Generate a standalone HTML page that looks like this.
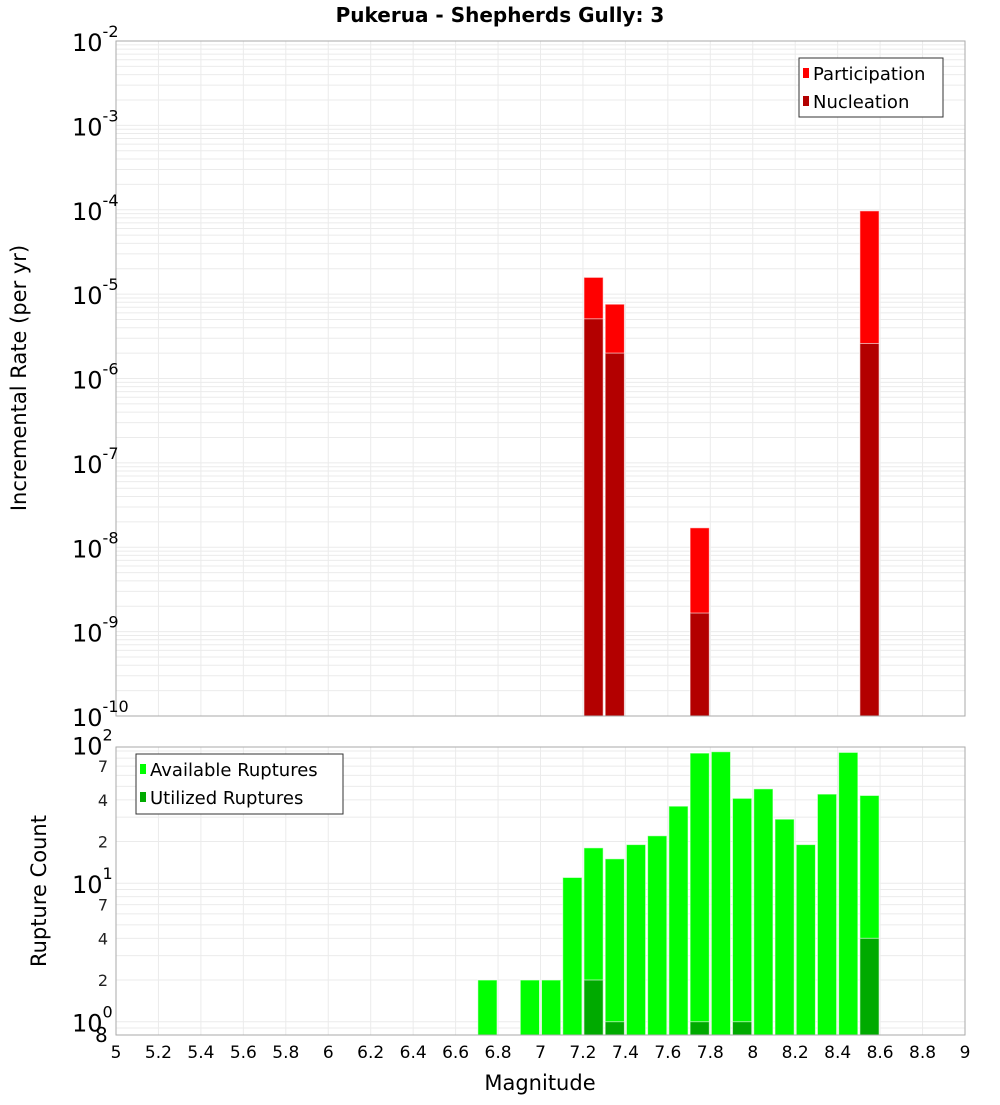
<!DOCTYPE html>
<html><head><meta charset="utf-8"><style>
body{margin:0;background:#fff}
svg text{font-family:"DejaVu Sans","Liberation Sans",sans-serif}
</style></head><body>
<svg id="chart" width="1000" height="1100" xmlns="http://www.w3.org/2000/svg">
<text x="500" y="22" text-anchor="middle" font-size="20" font-weight="bold">Pukerua - Shepherds Gully: 3</text>
<g id="topPanel"></g><g id="botPanel"></g>
<text transform="translate(26,378) rotate(-90)" text-anchor="middle" font-size="21">Incremental Rate (per yr)</text>
<text transform="translate(46,891) rotate(-90)" text-anchor="middle" font-size="21">Rupture Count</text>
<text x="540" y="1090" text-anchor="middle" font-size="21">Magnitude</text>
</svg>
<script>
const rateMags = [7.25, 7.35, 7.75, 8.55];
const participation = [1.58e-5, 7.6e-6, 1.7e-8, 9.7e-5];
const nucleation = [5.1e-6, 2.0e-6, 1.66e-9, 2.6e-6];
const countMags = [6.75,6.95,7.05,7.15,7.25,7.35,7.45,7.55,7.65,7.75,7.85,7.95,8.05,8.15,8.25,8.35,8.45,8.55];
const available = [2,2,2,11,18,15,19,22,36,87,89,41,48,29,19,44,88,43];
const utilizedMags = [7.25,7.35,7.75,7.95,8.55];
const utilized = [2,1,1,1,4];
const xTicks = [5,5.2,5.4,5.6,5.8,6,6.2,6.4,6.6,6.8,7,7.2,7.4,7.6,7.8,8,8.2,8.4,8.6,8.8,9];
const topExps = [-2,-3,-4,-5,-6,-7,-8,-9,-10];

const NS="http://www.w3.org/2000/svg";
const X0=116,X1=965;
const xs=m=>X0+(m-5)/4*(X1-X0);
function mk(p,tag,at,txt){const e=document.createElementNS(NS,tag);for(const k in at)e.setAttribute(k,at[k]);if(txt!==undefined)e.textContent=txt;p.appendChild(e);return e;}
const gTop=document.getElementById('topPanel'),gBot=document.getElementById('botPanel');
const T0=41,T1=716;const ty=v=>T0+(-2-Math.log10(v))*(T1-T0)/8;
const B0=747,B1=1035;const by=v=>1021.7-Math.log10(v)*138.5;

function grid(g,y0,y1,lines){
  mk(g,'rect',{x:X0,y:y0,width:X1-X0,height:y1-y0,fill:'#fff'});
  for(const y of lines){if(y>=y0&&y<=y1){const l=mk(g,'line',{x1:X0,x2:X1,y1:y,y2:y,stroke:'#ebebeb','stroke-width':1});}}
  for(const t of xTicks){const l=mk(g,'line',{x1:xs(t),x2:xs(t),y1:y0,y2:y1,stroke:'#ebebeb','stroke-width':1});}
}
let tl=[];for(let e=-10;e<-2;e++)for(let k=1;k<10;k++)tl.push(ty(k*Math.pow(10,e)));tl.push(ty(0.01));
grid(gTop,T0,T1,tl);
let bl=[];for(let e=-1;e<2;e++)for(let k=1;k<10;k++)bl.push(by(k*Math.pow(10,e)));bl.push(by(100));
grid(gBot,B0,B1,bl);

function bar(g,m,v,base,sc,fill,name){
  const x=xs(m-0.05)+1,w=xs(m+0.05)-xs(m-0.05)-2;const y=sc(v);
  const r=mk(g,'rect',{x:x,y:y,width:w,height:base-y,fill:fill,stroke:'rgba(255,255,255,0.6)','stroke-width':1});
  
  
}
participation.forEach((v,i)=>bar(gTop,rateMags[i],v,T1,ty,'#ff0000','participation-bar'));
nucleation.forEach((v,i)=>bar(gTop,rateMags[i],v,T1,ty,'#b30000','nucleation-bar'));
available.forEach((v,i)=>bar(gBot,countMags[i],v,B1,by,'#00ff00','available-bar'));
utilized.forEach((v,i)=>bar(gBot,utilizedMags[i],v,B1,by,'#00aa00','utilized-bar'));

mk(gTop,'rect',{x:X0,y:T0,width:X1-X0,height:T1-T0,fill:'none',stroke:'#aaa'});
mk(gBot,'rect',{x:X0,y:B0,width:X1-X0,height:B1-B0,fill:'none',stroke:'#aaa'});

topExps.forEach(e=>{const y=ty(Math.pow(10,e));
  const t=mk(gTop,'text',{x:72,y:y+10,'font-size':24});
  
  
  t.textContent='10';mk(t,'tspan',{dy:-14,'font-size':16},String(e));});
[0,1,2].forEach(e=>{const y=by(Math.pow(10,e));
  const t=mk(gBot,'text',{x:72,y:y+10,'font-size':24});
  
  
  t.textContent='10';mk(t,'tspan',{dy:-14,'font-size':16},String(e));});
[2,4,7,20,40,70].forEach(v=>{const t=mk(gBot,'text',{x:108,y:by(v)+6,'font-size':16,'text-anchor':'end',fill:'#222'},String(v).charAt(0));
  
  });
{const t=mk(gBot,'text',{x:95,y:1042,'font-size':20},'8');}
xTicks.forEach(v=>{const t=mk(gBot,'text',{x:xs(v),y:1058,'font-size':17,'text-anchor':'middle'},String(v));
  
  });

function legend(g,x,y,w,h,items,name){
  const lg=mk(g,'g',{});
  mk(lg,'rect',{x:x,y:y,width:w,height:h,fill:'#fff',stroke:'#333'});
  items.forEach((it,i)=>{const cy=y+15+i*28;
    mk(lg,'rect',{x:x+4,y:cy-5,width:6,height:10,fill:it[1]});
    const t=mk(lg,'text',{x:x+14,y:cy+7,'font-size':18},it[0]);
    
    });
}
legend(gTop,799,58,144,59,[['Participation','#ff0000'],['Nucleation','#b30000']],'top-legend');
legend(gBot,136,754,207,60,[['Available Ruptures','#00ff00'],['Utilized Ruptures','#00aa00']],'bottom-legend');
</script>
</body></html>
